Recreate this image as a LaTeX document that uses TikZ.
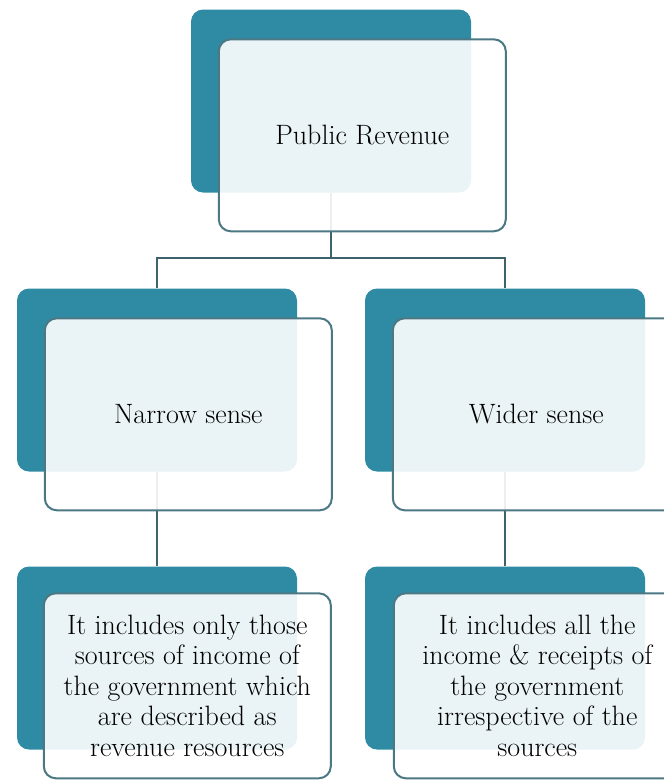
\documentclass[tikz,border=0pt]{standalone}
\usetikzlibrary{positioning}
\definecolor{tealback}{RGB}{46,139,163}
\definecolor{frameline}{RGB}{76,120,132}
\definecolor{linkline}{RGB}{62,98,108}

\begin{document}
\begin{tikzpicture}[x=1pt,y=-1pt,
    back/.style={fill=tealback,rounded corners=12pt,minimum width=280pt,
    minimum height=183pt,inner sep=0pt},
    front/.style={draw=frameline,line width=2pt,fill=white,fill opacity=0.9,
    text opacity=1,rounded corners=12pt,minimum width=287pt,minimum height=192pt,
    align=center,inner sep=0pt,font=\fontsize{28}{30.5}\selectfont},
    link/.style={draw=linkline,line width=2pt}]

    \clip (0,0) rectangle (664,782);

    % dark boxes behind
    \node[back] (b1) at (331,101) {};
    \node[back] (b2) at (157,380) {};
    \node[back] (b3) at (505,380) {};
    \node[back] (b4) at (157,658) {};
    \node[back] (b5) at (505,658) {};

    % connectors
    \draw[link] (b1.south) -- ++(0,65) coordinate (split) -| (b2.north);
    \draw[link] (split) -| (b3.north);
    \draw[link] (b2.south) -- (b4.north);
    \draw[link] (b3.south) -- (b5.north);

    % front boxes
    \node[front,below right=29pt and 27pt of b1.north west] (f1) {Public Revenue};
    \node[front,below right=29pt and 27pt of b2.north west] (f2) {Narrow sense};
    \node[front,below right=29pt and 27pt of b3.north west] (f3) {Wider sense};
    \node[front,minimum height=185pt,below right=26pt and 26pt of b4.north west] (f4)
      {It includes only those\\sources of income of\\the government which\\are described as\\revenue resources};
    \node[front,minimum height=185pt,below right=26pt and 28pt of b5.north west] (f5)
      {It includes all the\\income \& receipts of\\the government\\irrespective of the\\sources};
\end{tikzpicture}
\end{document}
